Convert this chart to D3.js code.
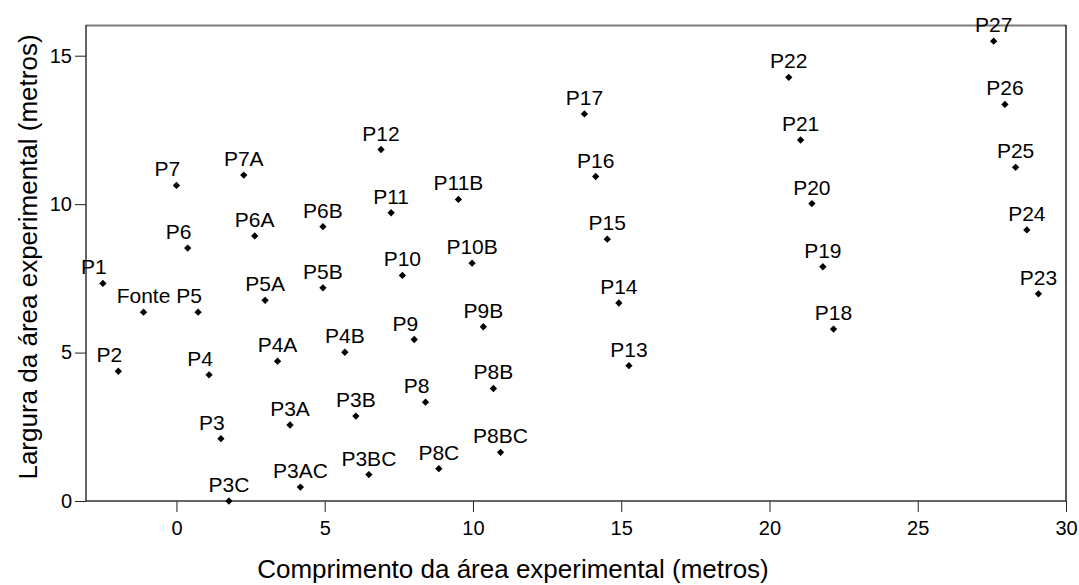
<!DOCTYPE html>
<html>
  <head>
    <script src="https://d3js.org/d3.v7.min.js"></script>
    <meta charset="utf-8">
    <title>Área experimental</title>
    <style>
      body {
        margin: 0;
        background: #fff;
      }

      text {
        font-family: "Liberation Sans", Arial, sans-serif;
        fill: #000;
      }
    </style>
  </head>
  <body>
    <script>
      // Point names and coordinates (metres)
      const names = ["P1", "Fonte", "P5", "P2", "P7", "P6", "P4", "P3", "P3C",
        "P7A", "P6A", "P5A", "P4A", "P3A", "P3AC", "P6B", "P5B", "P4B", "P3B", "P3BC",
        "P12", "P11", "P10", "P9", "P8", "P8C", "P11B", "P10B", "P9B", "P8B", "P8BC",
        "P17", "P16", "P15", "P14", "P13", "P22", "P21", "P20", "P19", "P18",
        "P27", "P26", "P25", "P24", "P23"];
      const comprimento = [-2.48, -1.11, 0.73, -1.96, 0.0, 0.38, 1.10, 1.50, 1.77,
        2.27, 2.64, 2.99, 3.41, 3.83, 4.18, 4.94, 4.94, 5.68, 6.05, 6.49,
        6.90, 7.24, 7.62, 8.02, 8.40, 8.85, 9.51, 9.97, 10.35, 10.69, 10.93,
        13.76, 14.14, 14.53, 14.92, 15.26, 20.65, 21.05, 21.43, 21.80, 22.16,
        27.56, 27.94, 28.30, 28.68, 29.07];
      const largura = [7.33, 6.36, 6.36, 4.37, 10.63, 8.52, 4.25, 2.10, 0.0,
        10.98, 8.93, 6.76, 4.71, 2.56, 0.47, 9.24, 7.18, 5.01, 2.86, 0.89,
        11.84, 9.71, 7.60, 5.44, 3.33, 1.09, 10.16, 8.01, 5.87, 3.79, 1.64,
        13.04, 10.93, 8.82, 6.67, 4.56, 14.27, 12.16, 10.02, 7.89, 5.79,
        15.49, 13.36, 11.24, 9.13, 6.98];
      const xTicks = [0, 5, 10, 15, 20, 25, 30];
      const yTicks = [0, 5, 10, 15];

      const width = 1079, height = 585;
      const margin = {top: 26, right: 13, bottom: 84, left: 86};

      const points = names.map((n, i) => ({name: n, x: comprimento[i], y: largura[i]}));

      const svg = d3.select("body")
        .append("svg")
        .attr("width", width)
        .attr("height", height);

      const x = d3.scaleLinear()
        .domain([-3.05, 30])
        .range([margin.left, width - margin.right]);

      const y = d3.scaleLinear()
        .domain([0, 16])
        .range([height - margin.bottom, margin.top]);

      // axes
      const xAxis = svg.append("g")
        .attr("transform", `translate(0,${height - margin.bottom})`)
        .call(d3.axisBottom(x).tickValues(xTicks).tickSize(11).tickPadding(9).tickSizeOuter(0));

      const yAxis = svg.append("g")
        .attr("transform", `translate(${margin.left},0)`)
        .call(d3.axisLeft(y).tickValues(yTicks).tickSize(11).tickPadding(3).tickSizeOuter(0));

      [xAxis, yAxis].forEach(g => {
        g.select(".domain").remove();
        g.selectAll(".tick line").attr("stroke", "#222");
        g.selectAll(".tick text")
          .attr("font-size", "20px")
          .attr("font-family", "Liberation Sans, Arial, sans-serif")
          .attr("fill", "#000");
      });

      // frame round the plot
      const x0 = x.range()[0], x1 = x.range()[1];
      const y0 = y.range()[0], y1 = y.range()[1];
      svg.append("line")
        .attr("x1", x0).attr("x2", x1).attr("y1", y1 - 0.5).attr("y2", y1 - 0.5)
        .attr("stroke", "#7a7a7a").attr("stroke-width", 2);
      svg.append("line")
        .attr("x1", x1).attr("x2", x1).attr("y1", y1 - 1).attr("y2", y0)
        .attr("stroke", "#222").attr("stroke-width", 1.5);
      svg.append("line")
        .attr("x1", x0).attr("x2", x1).attr("y1", y0).attr("y2", y0)
        .attr("stroke", "#333").attr("stroke-width", 1.5);
      svg.append("line")
        .attr("x1", x0).attr("x2", x0).attr("y1", y1 - 1).attr("y2", y0)
        .attr("stroke", "#333").attr("stroke-width", 1.5);

      // points
      svg.selectAll("path.pt")
        .data(points)
        .enter()
        .append("path")
        .attr("class", "pt")
        .attr("d", d3.symbol(d3.symbolDiamond2, 34))
        .attr("transform", d => `translate(${x(d.x)},${y(d.y)})`)
        .attr("fill", "#000");

      // labels: centred over the point, short names sit a bit to the left
      svg.selectAll("text.lbl")
        .data(points)
        .enter()
        .append("text")
        .attr("class", "lbl")
        .attr("x", d => x(d.x) + (d.name.length < 3 ? -9 : 0))
        .attr("y", d => y(d.y) - 9)
        .attr("text-anchor", "middle")
        .attr("font-size", "21px")
        .text(d => d.name);

      // axis titles
      svg.append("text")
        .attr("x", 513)
        .attr("y", 578)
        .attr("text-anchor", "middle")
        .attr("font-size", "26px")
        .text("Comprimento da área experimental (metros)");

      svg.append("text")
        .attr("transform", "translate(37,257) rotate(-90)")
        .attr("text-anchor", "middle")
        .attr("font-size", "26px")
        .text("Largura da área experimental (metros)");
    </script>
  </body>
</html>
